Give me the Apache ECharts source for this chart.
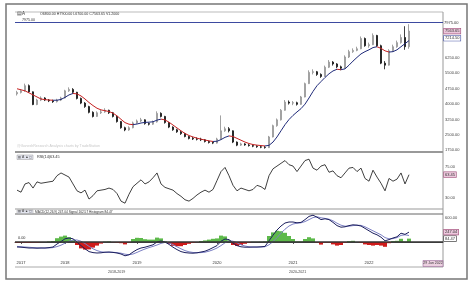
<!DOCTYPE html>
<html><head><meta charset="utf-8">
<script src="https://cdn.jsdelivr.net/npm/echarts@6/dist/echarts.min.js"></script>
<style>html,body{margin:0;padding:0;background:#fff}#c{width:474px;height:284px}</style>
</head><body><div id="c"></div>
<script>
const categoryCount = 107;
const yearTicks = [[1,'2017'],[12,'2018'],[30,'2019'],[50,'2020'],[69,'2021'],[88,'2022']];
const periodLabels = ['2018-2019','2020-2021'];
const ohlc = [
[4500,4570,4420,4650],[4570,4650,4520,4720],[4650,4900,4600,5000],[4900,4600,4550,4960],[4600,3980,3950,4620],[3980,4200,3950,4260],[4200,4300,4150,4380],[4300,4200,4150,4340],[4200,4160,4100,4250],[4160,4120,4060,4220],
[4120,4200,4080,4260],[4200,4300,4150,4360],[4300,4650,4280,4700],[4650,4720,4600,4820],[4720,4580,4520,4780],[4580,4280,4230,4600],[4280,4050,4000,4320],[4050,3880,3820,4100],[3880,3600,3550,3920],[3600,3400,3350,3650],
[3400,3580,3380,3650],[3580,3620,3520,3720],[3620,3700,3580,3800],[3700,3580,3520,3730],[3580,3400,3350,3620],[3400,3150,3100,3430],[3150,2850,2800,3180],[2850,2740,2680,2900],[2740,2850,2700,2920],[2850,3085,2820,3150],
[3085,3180,3040,3250],[3180,3235,3120,3330],[3235,3050,3000,3260],[3050,3020,2960,3100],[3020,3135,2990,3200],[3135,3550,3100,3650],[3550,3400,3350,3600],[3400,3100,3050,3430],[3100,2880,2830,3130],[2880,2750,2700,2920],
[2750,2650,2600,2800],[2650,2560,2500,2700],[2560,2420,2380,2600],[2420,2330,2280,2460],[2330,2300,2250,2400],[2300,2290,2230,2380],[2290,2260,2200,2360],[2260,2180,2130,2300],[2180,2130,2080,2220],[2130,2100,2050,2180],
[2100,2300,2080,2360],[2300,2700,2280,3450],[2700,2800,2650,2900],[2800,2700,2620,2880],[2700,2150,2100,2720],[2150,2000,1950,2180],[2000,2060,1960,2120],[2060,2010,1970,2100],[2010,1980,1930,2060],[1980,1950,1900,2030],
[1950,1920,1870,2000],[1920,1900,1850,1980],[1900,1880,1830,1960],[1880,2400,1860,2450],[2400,2950,2380,3000],[2950,3235,2900,3300],[3235,3700,3200,3760],[3700,4100,3680,4200],[4100,4050,3980,4180],[4050,4070,3950,4150],
[4070,3990,3930,4120],[3990,4350,3970,4400],[4350,5000,4330,5050],[5000,5550,4980,5650],[5550,5580,5450,5700],[5580,5450,5380,5620],[5450,5350,5280,5500],[5350,5800,5330,5880],[5800,6050,5760,6150],[6050,5960,5880,6100],
[5960,5820,5750,6000],[5820,5750,5650,5880],[5750,6300,5730,6380],[6300,6560,6250,6650],[6560,6620,6500,6720],[6620,6700,6580,6800],[6700,7200,6680,7300],[7200,6850,6800,7250],[6850,6900,6750,7000],[6900,7350,6880,7450],
[7350,6850,6800,7380],[6850,6000,5950,6900],[6000,5900,5700,6100],[5900,6600,5880,6680],[6600,6800,6550,6900],[6800,7000,6750,7100],[7000,7250,6950,7400],[7250,6800,6650,7800],[6800,7563.65,6700,7900]
];
const maLine = [
4750,4700,4650,4550,4450,4350,4250,4220,4200,4190,
4190,4230,4330,4450,4520,4500,4400,4250,4080,3930,
3800,3720,3680,3640,3560,3430,3260,3100,3020,3000,
3030,3080,3110,3120,3140,3220,3270,3230,3120,2980,
2840,2700,2570,2470,2400,2340,2290,2250,2210,2180,
2190,2270,2380,2450,2420,2330,2240,2150,2080,2030,
2000,1980,1960,1990,2150,2400,2700,3000,3250,3450,
3620,3780,4000,4300,4620,4900,5100,5300,5480,5620,
5700,5680,5720,5900,6100,6280,6450,6560,6650,6760,
6800,6720,6600,6540,6560,6650,6800,6950,7100
];
const maSegments = [[0,9,'down'],[9,14,'up'],[14,29,'down'],[29,36,'up'],[36,49,'down'],[49,53,'up'],[53,62,'down'],[62,80,'up'],[80,81,'down'],[81,90,'up'],[90,93,'down'],[93,107,'up']];
const rsi = [
41,38,50,52,44,53,51,52,53,54,
62,66,63,60,50,40,37,41,28,33,
40,41,42,44,42,36,25,22,35,46,
51,56,50,53,59,66,50,45,43,41,
36,32,27,25,29,34,38,41,38,42,
55,68,74,62,48,40,44,42,40,42,
48,46,42,62,72,76,80,84,78,76,
68,76,84,86,73,70,76,78,67,69,
62,59,66,73,74,68,73,58,54,70,
60,51,40,58,54,57,66,50,63.45
];
const macd = [
-125,-130,-140,-150,-150,-155,-150,-150,-140,-125,
-50,10,80,100,80,0,-90,-170,-240,-265,
-275,-270,-255,-250,-260,-275,-300,-345,-320,-250,
-190,-150,-130,-100,-70,0,25,0,-60,-130,
-190,-240,-265,-275,-280,-270,-250,-230,-190,-140,
-90,20,75,60,-30,-90,-120,-130,-130,-125,
-125,-120,-110,30,170,300,400,475,500,500,
480,490,560,640,670,620,560,580,560,490,
410,370,380,410,430,420,400,340,280,220,
180,120,30,60,100,130,220,190,247.04
];
const signal = [
-110,-118,-125,-132,-140,-145,-148,-150,-148,-140,
-115,-80,-30,20,50,50,20,-40,-110,-170,
-215,-245,-258,-258,-258,-265,-280,-305,-318,-300,
-260,-215,-175,-140,-110,-75,-35,-10,-25,-65,
-120,-170,-215,-245,-262,-268,-265,-255,-230,-195,
-150,-90,-20,30,20,-20,-70,-100,-120,-128,
-128,-125,-120,-70,10,110,220,320,400,450,
470,480,510,560,610,630,605,590,570,530,
470,420,395,395,410,420,415,380,330,280,
230,180,110,80,85,110,165,180,162.57
];
const hist = [
-20,-18,-22,-25,-15,-15,-5,0,12,25,
95,135,160,120,45,-75,-160,-190,-185,-140,
-90,-40,10,15,-5,-15,-30,-60,-8,75,
105,100,70,60,60,110,90,15,-50,-95,
-105,-105,-75,-45,-25,-5,25,40,60,80,
90,160,140,45,-75,-100,-75,-45,-15,5,
5,8,15,150,240,280,270,230,150,75,
15,15,75,120,90,-15,-65,-15,-15,-60,
-90,-75,-22,22,30,0,-22,-60,-75,-90,
-75,-90,-120,-30,22,30,80,15,84.47
];
const priceTicks = [1750,2500,3250,4000,4750,5500,6250];
const rsiTicks = [75,30];
const macdTicks = [600];
const levelLine = 7975;
const lastClose = 7563.65;
const lastMA = 7214.50;
const lastDate = '29 Jun 2022';

const FONT = 'Liberation Sans';
const categories = Array.from({length: categoryCount}, () => '');
yearTicks.forEach(([i, t]) => { categories[i] = t; });

const GL = 15, GR = 31;
const grids = [
  {left: GL, right: GR, top: 17, height: 138.4},
  {left: GL, right: GR, top: 153, height: 55},
  {left: GL, right: GR, top: 214, height: 44}
];
function xAx(idx, show) {
  return {
    type: 'category', gridIndex: idx, data: categories, boundaryGap: true,
    axisLine: {show: show, lineStyle: {color: '#555', width: 1}},
    axisTick: {show: show, alignWithLabel: true, length: 2, interval: (i, v) => v !== '', lineStyle: {color: '#555'}},
    axisLabel: {show: show, interval: 0, fontSize: 4, color: '#333', margin: 3, fontFamily: FONT},
    splitLine: {show: false}
  };
}
function yAx(idx, min, max, interval, shown) {
  return {
    type: 'value', gridIndex: idx, position: 'right', min, max, interval,
    axisLine: {show: false}, axisTick: {show: false}, splitLine: {show: false},
    axisLabel: {fontSize: 4, color: '#444', margin: 2, fontFamily: FONT,
      formatter: v => shown.includes(v) ? v.toFixed(2) : ''}
  };
}
function boxLabel(value, text, bg, border, color) {
  return {yAxis: value, lineStyle: {color: 'rgba(0,0,0,0)', width: 0.1},
    label: {show: true, position: 'end', distance: 1, formatter: text, fontSize: 4, fontFamily: FONT,
      color: color, backgroundColor: bg, borderColor: border, borderWidth: 0.6, padding: [0.5, 1]}};
}

const vmPieces = maSegments.map(([a, b, t]) => ({gte: a, lt: b, color: t === 'down' ? '#c42020' : '#1f2a78'}));

const option = {
  animation: false,
  backgroundColor: '#fff',
  grid: grids,
  xAxis: [xAx(0, false), xAx(1, false), xAx(2, true)],
  yAxis: [
    yAx(0, 1500, 8250, 250, priceTicks),
    yAx(1, 15, 95, 5, rsiTicks),
    yAx(2, -400, 700, 100, macdTicks)
  ],
  visualMap: [{type: 'piecewise', show: false, seriesIndex: 1, dimension: 0, pieces: vmPieces}],
  series: [
    {type: 'candlestick', xAxisIndex: 0, yAxisIndex: 0, data: ohlc, barWidth: 2.2,
      itemStyle: {color: '#ffffff', color0: '#111111', borderColor: '#8a8a8a', borderColor0: '#111111', borderWidth: 0.8},
      markLine: {symbol: 'none', silent: true, animation: false, data: [
        {yAxis: levelLine, lineStyle: {color: '#3d4aa0', width: 1, type: 'solid'},
          label: {show: true, position: 'end', distance: 1, formatter: levelLine.toFixed(2), fontSize: 4, color: '#333', fontFamily: FONT}},
        boxLabel(lastClose, lastClose.toFixed(2), '#ecc8dc', '#a0507a', '#333'),
        boxLabel(lastMA, lastMA.toFixed(2), '#ffffff', '#3d4aa0', '#333')
      ]}},
    {type: 'line', xAxisIndex: 0, yAxisIndex: 0, data: maLine, symbol: 'none', lineStyle: {width: 1}},
    {type: 'line', xAxisIndex: 1, yAxisIndex: 1, data: rsi, symbol: 'none', lineStyle: {width: 0.9, color: '#2a2a2a'},
      markLine: {symbol: 'none', silent: true, data: [boxLabel(rsi[rsi.length - 1], rsi[rsi.length - 1].toFixed(2), '#ecc8dc', '#a0507a', '#333')]}},
    {type: 'bar', xAxisIndex: 2, yAxisIndex: 2, data: hist, barCategoryGap: '0%',
      itemStyle: {color: p => p.value >= 0 ? '#5db94a' : '#cf1b1b'},
      markLine: {symbol: 'none', silent: true, data: [
        {yAxis: 0, lineStyle: {color: '#333', width: 1.6, type: 'solid'}, label: {show: false}},
        boxLabel(hist[hist.length - 1], hist[hist.length - 1].toFixed(2), '#ffffff', '#333', '#333')
      ]}},
    {type: 'line', xAxisIndex: 2, yAxisIndex: 2, data: signal, symbol: 'none', lineStyle: {width: 1, color: '#7c80c4'}},
    {type: 'line', xAxisIndex: 2, yAxisIndex: 2, data: macd, symbol: 'none', lineStyle: {width: 1, color: '#1c1f5e'},
      markLine: {symbol: 'none', silent: true, data: [boxLabel(macd[macd.length - 1], macd[macd.length - 1].toFixed(2), '#ecc8dc', '#a0507a', '#333')]}}
  ],
  graphic: [
    {type: 'rect', shape: {x: 6, y: 4, width: 461, height: 275}, style: {fill: 'none', stroke: '#777', lineWidth: 1.5}, z: 100},
    {type: 'line', shape: {x1: 15, y1: 12, x2: 443, y2: 12}, style: {stroke: '#bbb', lineWidth: 1}},
    {type: 'line', shape: {x1: 443, y1: 12, x2: 443, y2: 267}, style: {stroke: '#999', lineWidth: 1}},
    {type: 'line', shape: {x1: 15, y1: 152, x2: 443, y2: 152}, style: {stroke: '#999', lineWidth: 2}},
    {type: 'line', shape: {x1: 15, y1: 209, x2: 443, y2: 209}, style: {stroke: '#999', lineWidth: 1}},
    {type: 'line', shape: {x1: 15, y1: 214, x2: 443, y2: 214}, style: {stroke: '#666', lineWidth: 1}},
    {type: 'line', shape: {x1: 15, y1: 267, x2: 443, y2: 267}, style: {stroke: '#aaa', lineWidth: 1}},
    {type: 'text', x: 17, y: 11.5, style: {text: '▤A', fontSize: 4.5, fill: '#333', fontFamily: FONT}},
    {type: 'text', x: 40, y: 12, style: {text: 'O6800.00 H7900.00 L6700.00 C7563.65 V1.2000', fontSize: 3.6, fill: '#333', fontFamily: FONT}},
    {type: 'text', x: 22, y: 18, style: {text: '7975.00', fontSize: 3.6, fill: '#333', fontFamily: FONT}},
    {type: 'text', x: 17, y: 143.5, style: {text: '@GaneshResearch Analysis charts by TradeStation', fontSize: 3.6, fill: '#c8c8c8', fontFamily: FONT}},
    {type: 'rect', shape: {x: 17, y: 155, width: 16, height: 4.5}, style: {fill: '#e2e4ee', stroke: '#999', lineWidth: 0.5}},
    {type: 'text', x: 18, y: 155.3, style: {text: '▤ A ▲ ▢', fontSize: 3.4, fill: '#444', fontFamily: FONT}},
    {type: 'text', x: 37, y: 155.3, style: {text: 'RSI(14)63.45', fontSize: 3.8, fill: '#333', fontFamily: FONT}},
    {type: 'rect', shape: {x: 17, y: 210, width: 16, height: 3.6}, style: {fill: '#e2e4ee', stroke: '#999', lineWidth: 0.5}},
    {type: 'text', x: 18, y: 210, style: {text: '▤ A ▲ ▢', fontSize: 3.2, fill: '#444', fontFamily: FONT}},
    {type: 'text', x: 35, y: 210.3, style: {text: 'MACD(12,26,9) 247.04 Signal 162.57 Histogram 84.47', fontSize: 3.2, fill: '#333', fontFamily: FONT}},
    {type: 'text', x: 18, y: 236, style: {text: '0.00', fontSize: 3.8, fill: '#333', fontFamily: FONT}},
    {type: 'text', x: 108, y: 269.5, style: {text: periodLabels[0], fontSize: 3.6, fill: '#444', fontFamily: FONT}},
    {type: 'text', x: 289, y: 269.5, style: {text: periodLabels[1], fontSize: 3.6, fill: '#444', fontFamily: FONT}},
    {type: 'rect', shape: {x: 423, y: 260.5, width: 20, height: 6}, style: {fill: '#ecd0e0', stroke: '#9a6a9a', lineWidth: 0.6}},
    {type: 'text', x: 433, y: 263.5, style: {text: lastDate, fontSize: 3.5, fill: '#333', align: 'center', verticalAlign: 'middle', fontFamily: FONT}}
  ]
};
const chart = echarts.init(document.getElementById('c'), null, {renderer: 'canvas'});
chart.setOption(option);
</script></body></html>
